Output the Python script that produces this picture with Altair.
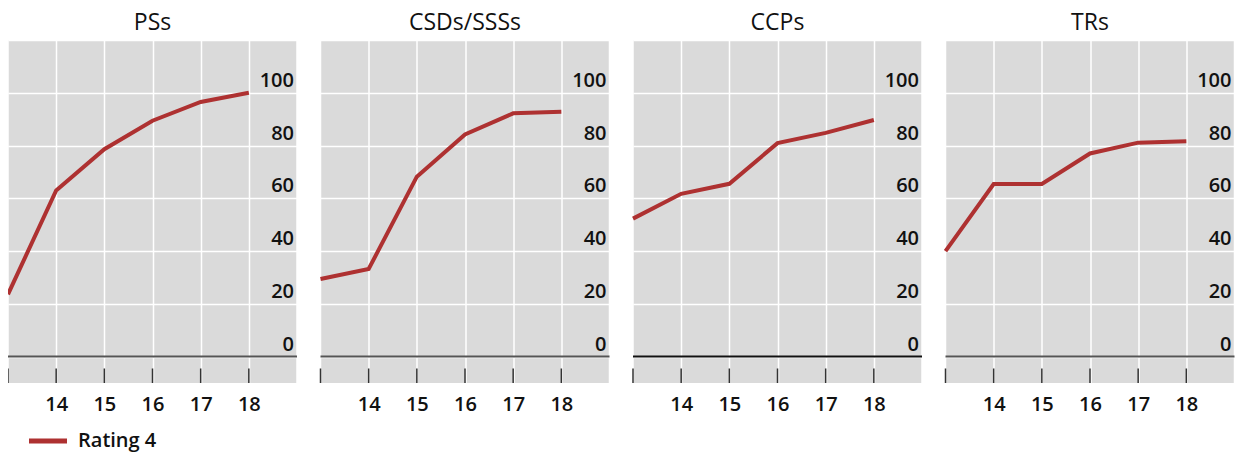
import altair as alt
import pandas as pd

panels = ["PSs", "CSDs/SSSs", "CCPs", "TRs"]
years = [13, 14, 15, 16, 17, 18]
ps_vals = [23.6, 63.0, 78.6, 89.4, 96.5, 100.0]
csd_vals = [29.4, 33.2, 68.2, 84.2, 92.2, 92.8]
ccp_vals = [52.3, 61.7, 65.5, 80.9, 84.8, 89.7]
tr_vals = [40.0, 65.4, 65.4, 77.0, 81.1, 81.6]
series_name = "Rating 4"
x_label_ticks = [14, 15, 16, 17, 18]
x_edge_grid = [13, 19]
y_grid = [0, 20, 40, 60, 80, 100, 120]
y_label_ticks = [0, 20, 40, 60, 80, 100]
zero_colors = ["#555555", "#555555", "#111111", "#555555"]

FONT = "Open Sans"
LINE = "#ae3131"
BG = "#dadada"


def panel(name, vals, zc):
    df = pd.DataFrame({"year": years, "value": vals, "series": [series_name] * len(years)})
    x_enc = alt.X(
        "year:Q",
        scale=alt.Scale(domain=[13, 19], nice=False, zero=False),
        axis=alt.Axis(
            values=x_label_ticks, grid=True, gridColor="white", gridWidth=1.5,
            ticks=False, domain=False, title=None, labelFlush=False,
            labelFont=FONT, labelFontSize=20, labelFontWeight=600, labelColor="#111111",
            labelPadding=11,
        ),
    )
    y_enc = alt.Y(
        "value:Q",
        scale=alt.Scale(domain=[-10, 120], nice=False, zero=False),
        axis=alt.Axis(
            orient="right", values=y_grid, grid=True, gridColor="white", gridWidth=1.5,
            ticks=False, labels=False, domain=False, title=None, minExtent=0,
        ),
    )
    vgrid = alt.Chart(pd.DataFrame({"year": x_edge_grid})).mark_rule(
        color="white", strokeWidth=1.5
    ).encode(x=x_enc)
    zero = alt.Chart(pd.DataFrame({"value": [0]})).mark_rule(color=zc, strokeWidth=2).encode(y=y_enc)
    tickdf = pd.DataFrame({"year": years, "value": [-10] * len(years), "value2": [-4.5] * len(years)})
    ticks = alt.Chart(tickdf).mark_rule(color="#333333", strokeWidth=1.5).encode(
        x=x_enc, y=y_enc, y2="value2:Q"
    )
    ylab = alt.Chart(pd.DataFrame({"value": y_label_ticks})).mark_text(
        align="right", baseline="alphabetic", dx=-3, dy=-6,
        font=FONT, fontSize=20, fontWeight=600, color="#111111",
    ).encode(x=alt.datum(19), y=y_enc, text=alt.Text("value:Q"))
    line = alt.Chart(df).mark_line(strokeWidth=4).encode(
        x=x_enc,
        y=y_enc,
        color=alt.Color(
            "series:N",
            scale=alt.Scale(range=[LINE]),
            title=None,
            legend=alt.Legend(
                orient="none", legendX=18.5, legendY=379.5,
                symbolType="stroke", symbolSize=1444, symbolStrokeWidth=5,
                labelFont=FONT, labelFontSize=20, labelFontWeight=600, labelColor="#111111",
                labelOffset=8.5, padding=0,
            ),
        ),
    )
    return alt.layer(vgrid, zero, ticks, line, ylab).properties(
        width=289, height=343,
        title=alt.TitleParams(
            name, font=FONT, fontSize=23, fontWeight="normal", color="#111111",
            baseline="alphabetic", offset=-13.7, anchor="middle", frame="group",
        ),
    )


charts = [panel(n, v, c) for n, v, c in zip(panels, [ps_vals, csd_vals, ccp_vals, tr_vals], zero_colors)]

chart = alt.hconcat(*charts, spacing=14.5).properties(
    padding={"left": -8, "top": 3.0, "right": 0, "bottom": 0},
).configure_view(fill=BG, strokeWidth=0)

chart.save("out.html", embed_options={"renderer": "svg", "actions": False})
